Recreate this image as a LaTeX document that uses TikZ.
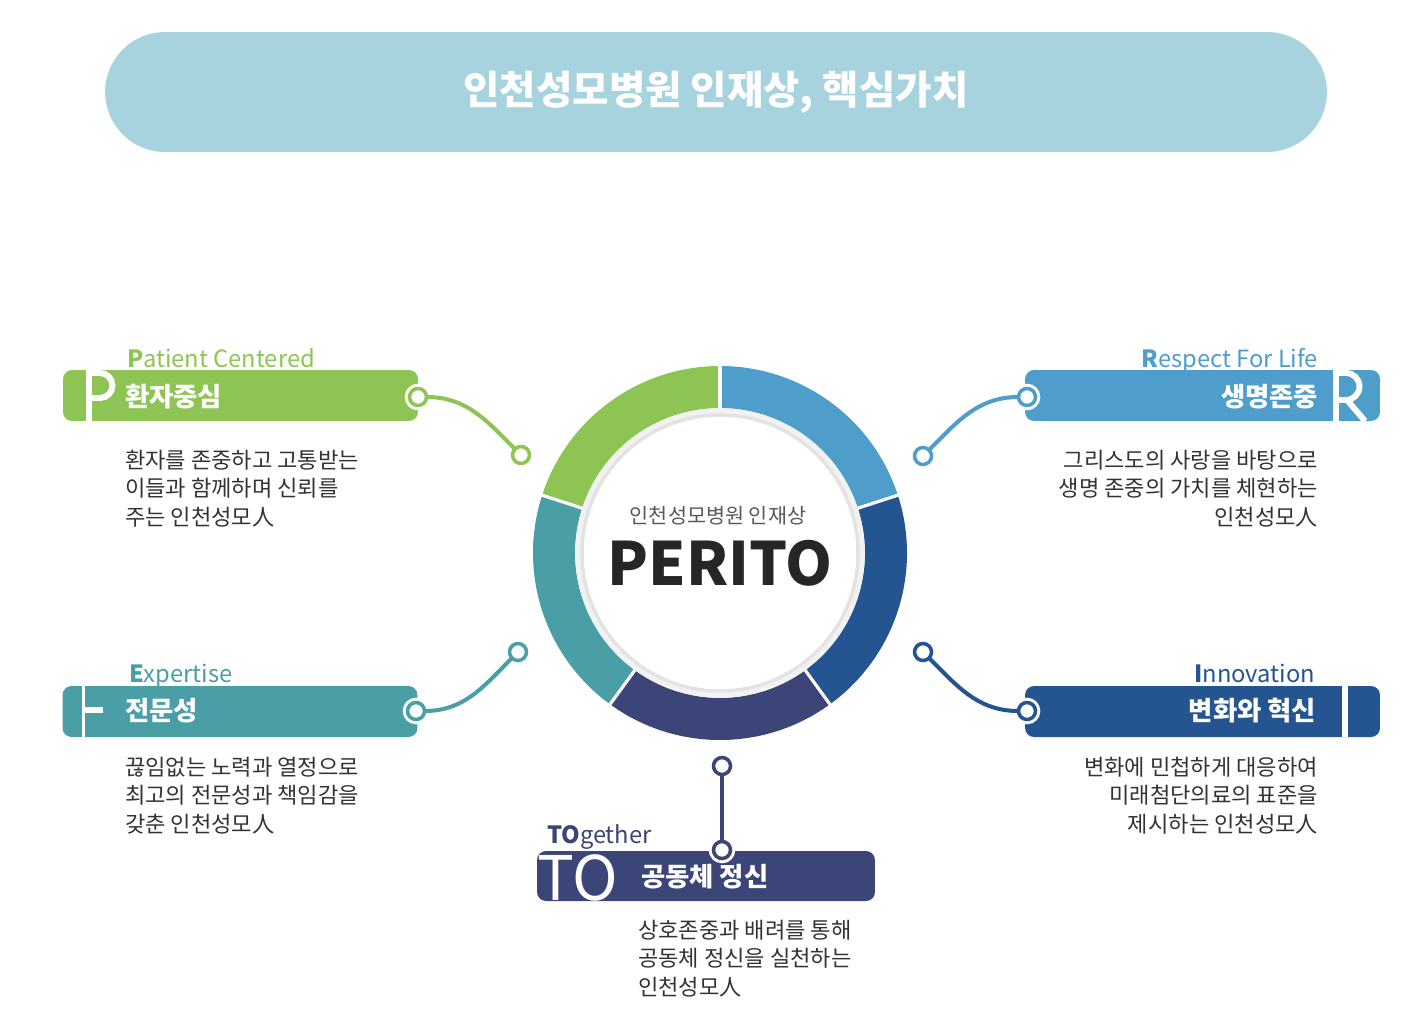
\documentclass[tikz,border=0pt]{standalone}
\usepackage{fontspec}
\setmainfont{Noto Sans CJK KR}
\definecolor{PerGreen}{HTML}{8DC453}
\definecolor{PerLBlue}{HTML}{4F9DCB}
\definecolor{PerDBlue}{HTML}{245590}
\definecolor{PerNavy}{HTML}{3C4577}
\definecolor{PerTeal}{HTML}{4A9FA7}
\definecolor{PerTitle}{HTML}{A7D3DF}
\definecolor{PerText}{HTML}{333333}

\begin{document}
\begin{tikzpicture}[
    x=0.02cm, y=0.02cm,
    every node/.style={inner sep=0pt, outer sep=0pt},
    banner/.style={fill=PerTitle, rounded corners=1.2cm, minimum width=24.44cm, minimum height=2.4cm, text=white, font=\bfseries\fontsize{22.5}{26}\selectfont},
    bar/.style={fill=#1, rounded corners=0.18cm, minimum width=7.1cm, minimum height=1.02cm},
    head/.style={text=white, font=\bfseries\fontsize{15}{17}\selectfont},
    tag/.style={text=#1, font=\fontsize{13.5}{16}\selectfont},
    desc/.style={text=PerText, font=\fontsize{12.6}{16.2}\selectfont},
    dot/.style={circle, draw=#1, fill=white, line width=2pt, minimum size=0.34cm},
    halo/.style={preaction={draw=white, line width=5.4pt}},
    link/.style={draw=#1, line width=2.3pt},
    seg/.style={draw=#1, line width=0.84cm},
    cut/.style={draw=white, line width=#1}
  ]
    \useasboundingbox (0,0) rectangle (1422,-1010);

    % title
    \node[banner] (title) at (716,-92) {인천성모병원 인재상, 핵심가치};

    % ring
    \coordinate (ring) at (720,-553);
    \foreach \a/\c in {90/PerGreen,162/PerTeal,234/PerNavy,306/PerDBlue,378/PerLBlue}
      \draw[seg=\c] (ring) ++(\a:166) arc[start angle=\a, end angle=\a+72, radius=166];
    \foreach \a in {18,90,162,234,306}
      \draw[cut=1.8pt] (ring) +(\a:140) -- +(\a:192);
    \draw[gray!10, line width=4pt] (ring) circle[radius=141];
    \draw[gray!22, line width=2pt] (ring) circle[radius=138];
    \fill[white] (ring) circle[radius=136];
    \node[text=black!65, font=\fontsize{11.8}{14}\selectfont] (sub) at (718,-516) {인천성모병원 인재상};
    \node[text=black!85, font=\bfseries\fontsize{34}{40}\selectfont] (perito) at (720,-563) {PERITO};

    % P
    \node[bar=PerGreen] (pbar) at (240.5,-395.5) {};
    \draw[cut=3.4pt] (89,-370) -- (89,-421);
    \draw[cut=3.4pt] (89,-373) -- (100,-373) arc[start angle=90, end angle=-90, radius=12.5] -- (89,-398);
    \node[tag=PerGreen, anchor=base west] (ptag) at (127,-367) {\bfseries P\mdseries atient Centered};
    \node[head, anchor=base west] (phead) at (125,-406) {환자중심};
    \node[desc, anchor=base west, align=left] (pdesc) at (125,-525) {환자를 존중하고 고통받는\\이들과 함께하며 신뢰를\\주는 인천성모人};
    \node[dot=PerGreen, halo] (pa) at (418,-397) {};
    \node[dot=PerGreen] (pb) at (521,-455) {};
    \draw[link=PerGreen] (pa) to[out=0, in=135] (pb);

    % R
    \node[bar=PerLBlue] (rbar) at (1202.5,-395.5) {};
    \draw[cut=3.4pt] (1336,-370) -- (1336,-421);
    \draw[cut=3.4pt] (1336,-373) -- (1346,-373) arc[start angle=90, end angle=-90, radius=13.5] -- (1336,-400);
    \draw[cut=3.4pt] (1347,-400) -- (1365,-421);
    \node[tag=PerLBlue, anchor=base east] (rtag) at (1318,-367) {\bfseries R\mdseries espect For Life};
    \node[head, anchor=base east] (rhead) at (1318,-406) {생명존중};
    \node[desc, anchor=base east, align=right] (rdesc) at (1318,-525) {그리스도의 사랑을 바탕으로\\생명 존중의 가치를 체현하는\\인천성모人};
    \node[dot=PerLBlue, halo] (ra) at (1027,-397) {};
    \node[dot=PerLBlue] (rb) at (923,-456) {};
    \draw[link=PerLBlue] (ra) to[out=180, in=45] (rb);

    % E
    \node[bar=PerTeal] (ebar) at (240,-711.5) {};
    \draw[cut=1.8pt] (83.5,-686) -- (83.5,-737);
    \draw[cut=3.4pt] (83.5,-710) -- (103,-710);
    \node[tag=PerTeal, anchor=base west] (etag) at (129,-682) {\bfseries E\mdseries xpertise};
    \node[head, anchor=base west] (ehead) at (125,-720) {전문성};
    \node[desc, anchor=base west, align=left] (edesc) at (125,-832) {끊임없는 노력과 열정으로\\최고의 전문성과 책임감을\\갖춘 인천성모人};
    \node[dot=PerTeal, halo] (ea) at (416,-711) {};
    \node[dot=PerTeal] (eb) at (518,-652) {};
    \draw[link=PerTeal] (ea) to[out=0, in=225] (eb);

    % I
    \node[bar=PerDBlue] (ibar) at (1202.5,-711.5) {};
    \draw[cut=3pt] (1345,-686) -- (1345,-737);
    \node[tag=PerDBlue, anchor=base east] (itag) at (1315,-682) {\bfseries I\mdseries nnovation};
    \node[head, anchor=base east] (ihead) at (1316,-720) {변화와 혁신};
    \node[desc, anchor=base east, align=right] (idesc) at (1318,-832) {변화에 민첩하게 대응하여\\미래첨단의료의 표준을\\제시하는 인천성모人};
    \node[dot=PerDBlue, halo] (ia) at (1027,-711) {};
    \node[dot=PerDBlue] (ib) at (923,-652) {};
    \draw[link=PerDBlue] (ia) to[out=180, in=-45] (ib);

    % TO
    \node[bar=PerNavy, minimum width=6.76cm, minimum height=1.0cm] (tbar) at (706,-876) {};
    \node[text=white, anchor=base west, text height=25.5pt, text depth=0pt, font=\fontsize{35}{40}\selectfont] (tbig) at (537,-900) {TO};
    \node[tag=PerNavy, anchor=base west] (ttag) at (547,-843) {\bfseries TO\mdseries gether};
    \node[head, anchor=base west] (thead) at (641,-886) {공동체 정신};
    \node[desc, anchor=base west, align=left] (tdesc) at (638,-995) {상호존중과 배려를 통해\\공동체 정신을 실천하는\\인천성모人};
    \node[dot=PerNavy, halo] (ta) at (722,-850) {};
    \node[dot=PerNavy] (tb) at (722,-766) {};
    \draw[link=PerNavy] (ta) -- (tb);
\end{tikzpicture}
\end{document}
